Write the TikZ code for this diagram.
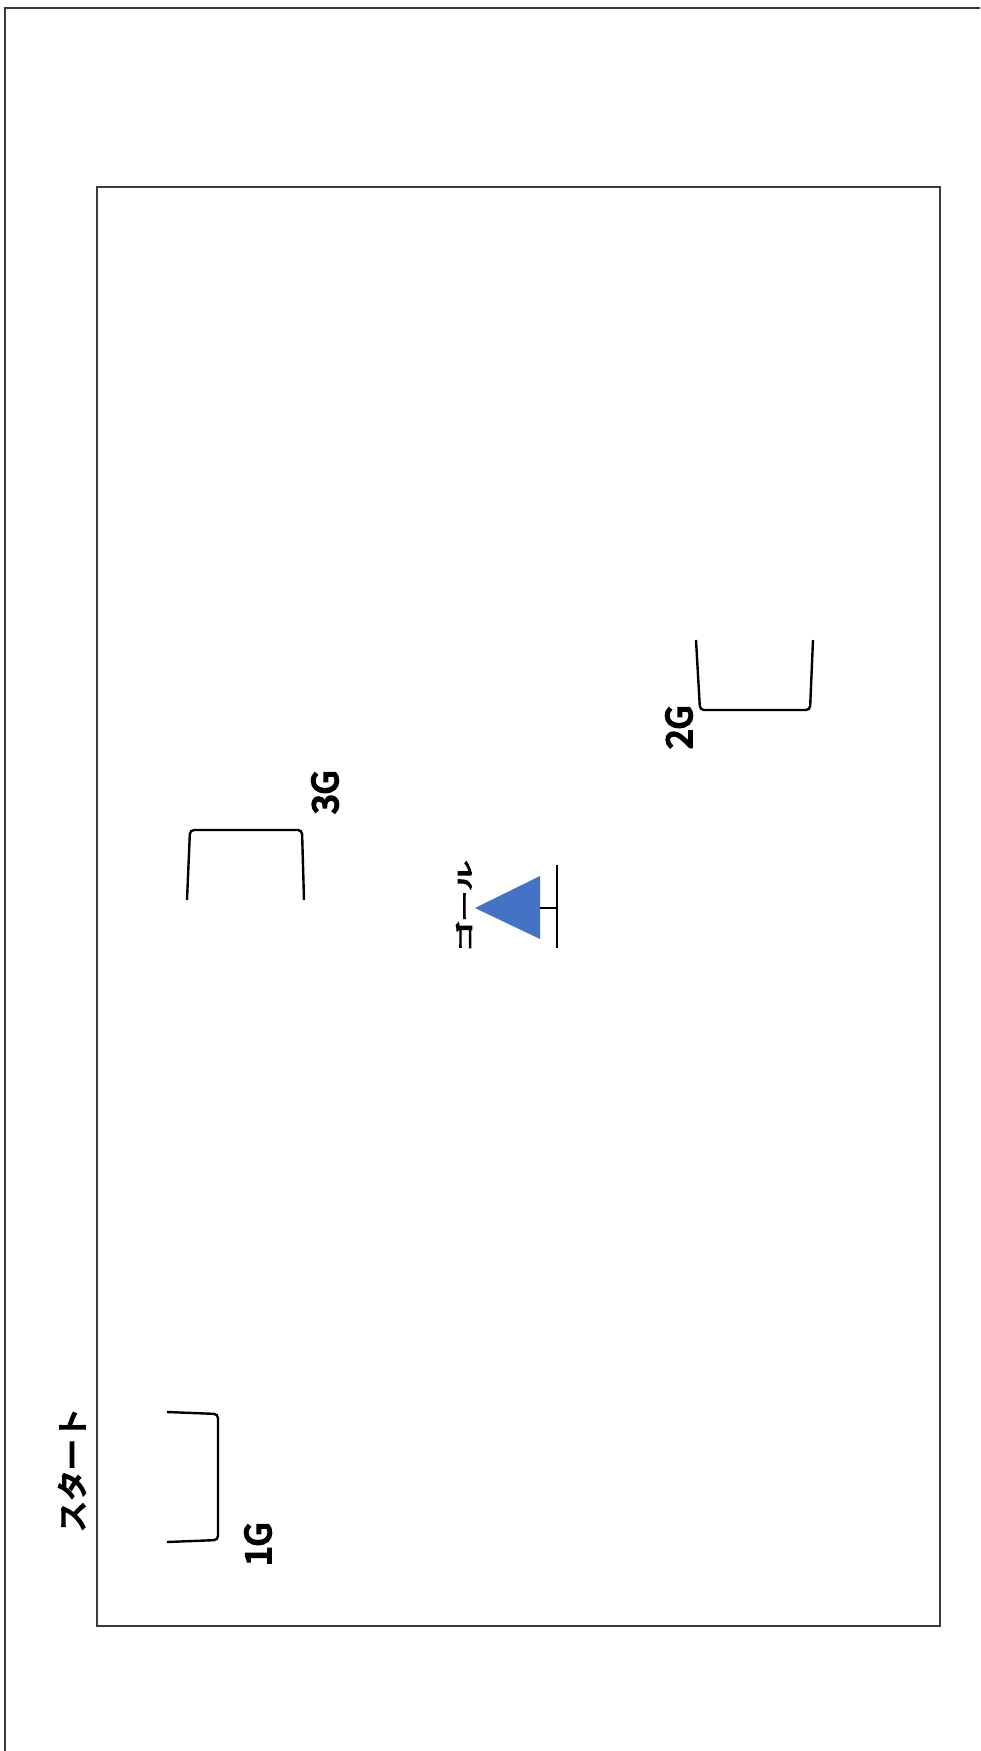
\documentclass[tikz,border=0pt]{standalone}
\usepackage{fontspec}
\newfontfamily\cjk[UprightFeatures={FakeBold=6}]{Noto Sans CJK JP}
\definecolor{goalblue}{HTML}{4472C4}
\definecolor{framegray}{HTML}{3A3A3A}
\begin{document}
\begin{tikzpicture}[x=1pt,y=-1pt,
  frameline/.style={draw=framegray,line width=1.6pt},
  goalline/.style={draw=black,line width=2.4pt,rounded corners=4pt},
  lbl/.style={inner sep=0pt,font=\cjk\fontsize{31}{31}\selectfont,rotate=90},
  lblsmall/.style={inner sep=0pt,font=\cjk\fontsize{35}{35}\selectfont,rotate=90}]
\useasboundingbox[fill=white] (0,0) rectangle (980,1751);
% outer frame (only top and left visible)
\draw[frameline] (980,8) -- (5,8) -- (5,1751);
% inner field
\draw[frameline] (97,187) rectangle (940,1626);
% 1G goal
\draw[goalline] (167,1412) -- (218,1414) -- (218,1540) -- (167,1542);
\node[lbl] (start) at (72,1470) {スタート};
\node[lblsmall] (g1) at (258,1544) {1G};
% 3G goal
\draw[goalline] (187,900) -- (190,830) -- (302,830) -- (304,900);
\node[lblsmall] (g3) at (325,792) {3G};
% 2G goal
\draw[goalline] (696,640) -- (700,710) -- (810,710) -- (813,640);
\node[lblsmall] (g2) at (679,727) {2G};
% finish marker
\fill[goalblue] (475,908) -- (540,876) -- (540,939) -- cycle;
\draw[black,line width=2.2pt] (540,908) -- (557,908);
\draw[black,line width=2.2pt] (557,865) -- (557,948);
\node[inner sep=0pt,rotate=90] (goal) at (464,906)
  {\scalebox{1.05}[0.6]{\cjk\fontsize{29}{29}\selectfont ゴール}};
\end{tikzpicture}
\end{document}
